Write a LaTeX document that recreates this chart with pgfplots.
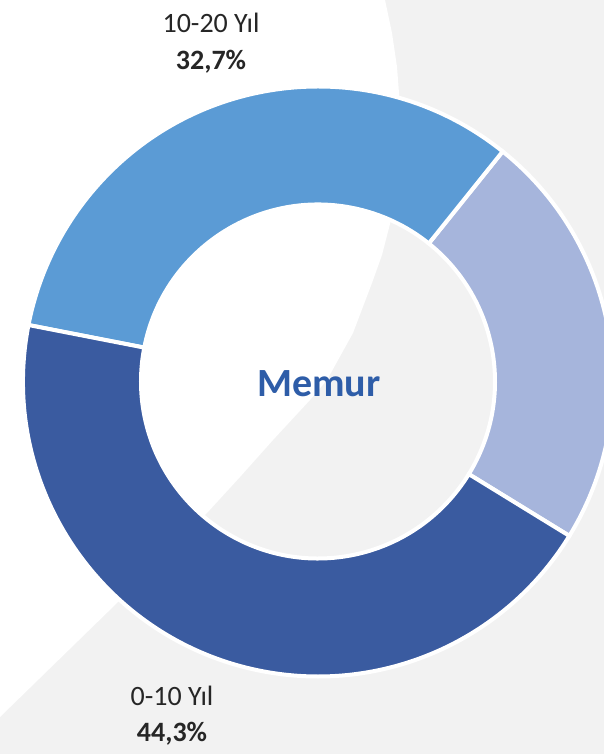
\documentclass[border=0pt]{standalone}
\usepackage{pgfplots}
\pgfplotsset{compat=1.18}
\usepackage{pgfplotstable}
\usepackage{fontspec}
\setmainfont{Carlito}
\definecolor{bggray}{HTML}{F2F2F2}
\definecolor{cA}{HTML}{A6B5DC}
\definecolor{cB}{HTML}{5B9BD5}
\definecolor{cC}{HTML}{3A5BA0}
\definecolor{memur}{HTML}{2E5DA8}
\definecolor{txt}{HTML}{262626}

\pgfplotstableread{
slice value
20plus 23.0
10to20 32.7
0to10 44.3
}\donutdata

\pgfplotstablegetelem{0}{value}\of\donutdata \let\vA\pgfplotsretval
\pgfplotstablegetelem{1}{value}\of\donutdata \let\vB\pgfplotsretval
\pgfplotstablegetelem{2}{value}\of\donutdata \let\vC\pgfplotsretval

% donut geometry (axis units = pixels of the reference)
\def\cx{318}\def\cy{372.5}\def\ro{295}\def\ri{177}
\pgfmathsetmacro\aZero{-31.56}
\pgfmathsetmacro\aOne{\aZero+3.6*\vA}
\pgfmathsetmacro\aTwo{\aOne+3.6*\vB}
\pgfmathsetmacro\aThree{\aTwo+3.6*\vC}

\newcommand\ring[3]{% start, end, colour
  \fill[#3, draw=white, line width=2pt]
  ([shift={(#1:\ro)}]axis cs:\cx,\cy) arc[start angle=#1, end angle=#2, radius=\ro]
  -- ([shift={(#2:\ri)}]axis cs:\cx,\cy) arc[start angle=#2, end angle=#1, radius=\ri]
  -- cycle;}

\begin{document}
\begin{tikzpicture}
\begin{axis}[at={(0,0)}, anchor=south west, scale only axis,
  width=302pt, height=377pt,
  xmin=0, xmax=604, ymin=0, ymax=754,
  hide axis, clip=true]
% background
\addplot[fill=bggray, draw=none] coordinates {(0,0) (604,0) (604,754) (0,754)} -- cycle;
\addplot[fill=white, draw=none] coordinates {
(0,754) (385,754) (392,721) (397,687) (399,661) (400,624) (398,584) (395,554)
(390,530) (382,499) (372,471) (353,421) (327,374) (310,354) (273,314)
(240,277) (207,241) (117,151) (0,37)} -- cycle;
% slices
\ring{\aZero}{\aOne}{cA}
\ring{\aOne}{\aTwo}{cB}
\ring{\aTwo}{\aThree}{cC}
% labels
\node[anchor=base, text=txt, font=\fontsize{14}{16}\selectfont] at (axis cs:211,721) {10-20 Yıl};
\node[anchor=base, text=txt, font=\fontsize{14}{16}\selectfont\bfseries] at (axis cs:211,684) {32,7\%};
\node[anchor=base, text=txt, font=\fontsize{14}{16}\selectfont] at (axis cs:172,48.5) {0-10 Yıl};
\node[anchor=base, text=txt, font=\fontsize{14}{16}\selectfont\bfseries] at (axis cs:172,12.5) {44,3\%};
\node[anchor=base, text=memur, font=\fontsize{20}{24}\selectfont\bfseries] at (axis cs:319,357.5) {Memur};
\end{axis}
\pgfresetboundingbox
\path[use as bounding box] (0,0) rectangle (302pt,377pt);
\end{tikzpicture}
\end{document}
